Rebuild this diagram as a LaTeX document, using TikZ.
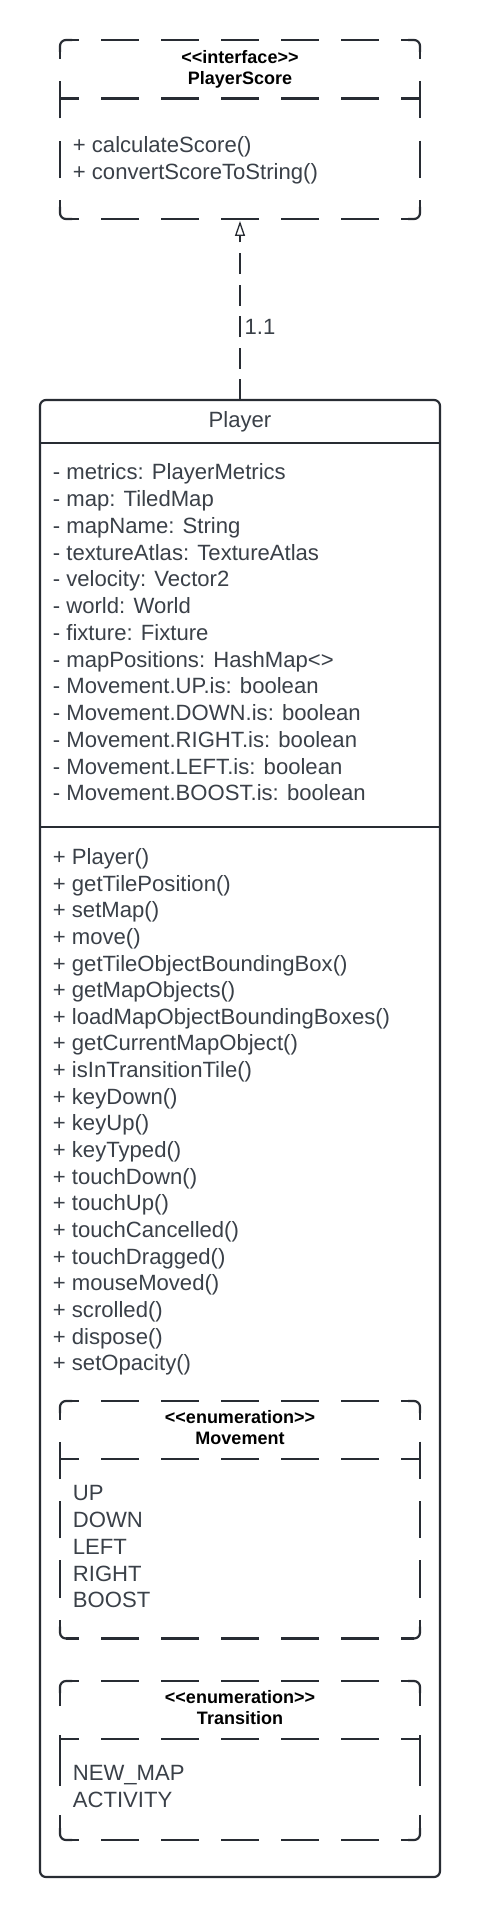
\documentclass[tikz,border=0pt]{standalone}
\usepackage{fontspec}
\newfontfamily\lsans{Liberation Sans}
\usetikzlibrary{arrows.meta}
\definecolor{linec}{RGB}{40,44,51}
\definecolor{txtc}{RGB}{58,64,72}
\tikzset{
  ln/.style={draw=linec, line width=2.2pt},
  item/.style={inner sep=0pt, text=txtc, font=\lsans\fontsize{22.1}{26.7}\selectfont, text height=15.8pt, text depth=0pt, anchor=west},
  head/.style={inner sep=0pt, text=black, font=\lsans\bfseries\fontsize{18}{21.5}\selectfont, text height=12.9pt, text depth=0pt, anchor=center},
  conn/.style={draw=linec, line width=1.3pt, dash pattern=on 21pt off 10.5pt, -{Triangle[open,length=15pt,width=10pt,line width=1.3pt]}},
}
% dashed edge: start (#1,#2), end (#3,#4), trimmed by #5 at both ends
\newcommand\ddedge[5]{%
  \pgfmathsetmacro\ddL{veclen(#3-#1,#4-#2)}%
  \pgfmathsetmacro\ddK{max(1,floor(\ddL/58.7))}%
  \pgfmathsetmacro\ddOn{\ddL/\ddK*37/58.7}%
  \pgfmathsetmacro\ddOff{\ddL/\ddK-\ddOn}%
  \pgfmathsetmacro\ddPh{\ddOn/2+#5}%
  \pgfmathsetmacro\ddUx{(#3-#1)/\ddL}%
  \pgfmathsetmacro\ddUy{(#4-#2)/\ddL}%
  \draw[ln, dash pattern=on \ddOn pt off \ddOff pt, dash phase=\ddPh pt]
    ({#1+#5*\ddUx},{#2+#5*\ddUy}) -- ({#3-#5*\ddUx},{#4-#5*\ddUy});%
}
% dashed rounded box x1 y1 x2 y2 ydivider
\newcommand\ddbox[5]{%
  \ddedge{#1}{#2}{#3}{#2}{6}%
  \ddedge{#3}{#2}{#3}{#4}{6}%
  \ddedge{#3}{#4}{#1}{#4}{6}%
  \ddedge{#1}{#4}{#1}{#2}{6}%
  \draw[ln, rounded corners=6pt] (#1,#2+12) -- (#1,#2) -- (#1+12,#2);%
  \draw[ln, rounded corners=6pt] (#3-12,#2) -- (#3,#2) -- (#3,#2+12);%
  \draw[ln, rounded corners=6pt] (#3,#4-12) -- (#3,#4) -- (#3-12,#4);%
  \draw[ln, rounded corners=6pt] (#1+12,#4) -- (#1,#4) -- (#1,#4-12);%
  \ddedge{#1}{#5}{#3}{#5}{0}%
}
\begin{document}
\begin{tikzpicture}[x=1pt,y=-1pt]
\useasboundingbox (0,0) rectangle (480,1918);
\fill[white] (0,0) rectangle (480,1918);

% interface PlayerScore
\ddbox{60}{40}{420}{219}{98.5}
\node[head] (ifS) at (240,56.7) {<<interface>>};
\node[head] (ifN) at (240,78.5) {PlayerScore};
\node[item] (ifM1) at (72.7,144.5) {+ calculateScore()};
\node[item] (ifM2) at (72.7,171.2) {+ convertScoreToString()};
\coordinate (ifB) at (240,221);

% Player class
\draw[ln, rounded corners=6pt] (40,400) rectangle (440,1877);
\coordinate (pT) at (240,400);
\node[item, anchor=center] (plT) at (240,420) {Player};
\draw[ln] (40,443) -- (440,443);
\foreach \txt [count=\i from 0] in {- metrics: PlayerMetrics, - map: TiledMap, - mapName: String, - textureAtlas: TextureAtlas, - velocity: Vector2, - world: World, - fixture: Fixture, - mapPositions: HashMap<>, - Movement.UP.is: boolean, - Movement.DOWN.is: boolean, - Movement.RIGHT.is: boolean, - Movement.LEFT.is: boolean, - Movement.BOOST.is: boolean}
  {\node[item] (att\i) at (52.7,{472+\i*26.75}) {\txt};}
\draw[ln] (40,827) -- (440,827);
\foreach \txt [count=\i from 0] in {+ Player(), + getTilePosition(), + setMap(), + move(), + getTileObjectBoundingBox(), + getMapObjects(), + loadMapObjectBoundingBoxes(), + getCurrentMapObject(), + isInTransitionTile(), + keyDown(), + keyUp(), + keyTyped(), + touchDown(), + touchUp(), + touchCancelled(), + touchDragged(), + mouseMoved(), + scrolled(), + dispose(), + setOpacity()}
  {\node[item] (met\i) at (52.7,{856.5+\i*26.65}) {\txt};}

% enumeration Movement
\ddbox{60}{1401}{420}{1638.5}{1459}
\node[head] (mvS) at (240,1417) {<<enumeration>>};
\node[head] (mvN) at (240,1438.5) {Movement};
\foreach \txt [count=\i from 0] in {UP, DOWN, LEFT, RIGHT, BOOST}
  {\node[item] (mv\i) at (72.7,{1493+\i*26.7}) {\txt};}

% enumeration Transition
\ddbox{60}{1681}{420}{1840}{1739}
\node[head] (trS) at (240,1697) {<<enumeration>>};
\node[head] (trN) at (240,1718.5) {Transition};
\node[item] (tr0) at (72.7,1773) {NEW\_MAP};
\node[item] (tr1) at (72.7,1799.7) {ACTIVITY};

% realization arrow
\draw[conn] (pT) -- (ifB);
\node[item] (lbl) at (244.5,327) {1.1};
\end{tikzpicture}
\end{document}
